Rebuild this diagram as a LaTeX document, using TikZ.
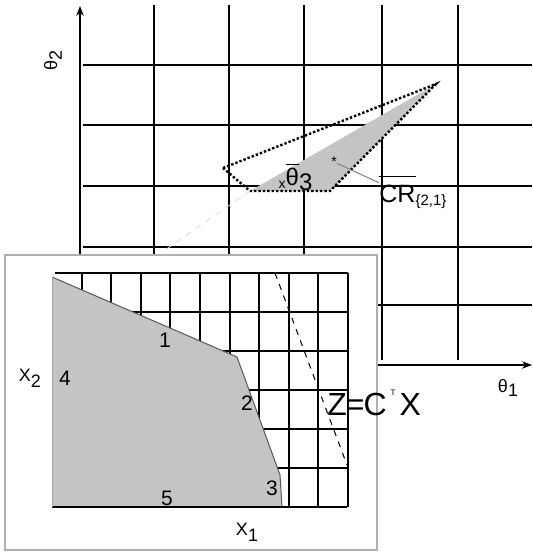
\documentclass[tikz,border=0pt]{standalone}
\usepackage{fontspec}
\setmainfont{Liberation Sans}
\usetikzlibrary{arrows.meta}
\definecolor{regiongray}{HTML}{C4C4C4}
\definecolor{panelline}{HTML}{B0B0B0}
\tikzset{
  gridline/.style={black, line width=0.6pt},
  edgelabel/.style={font=\fontsize{10.5}{12}\selectfont, inner sep=0pt},
  axislabel/.style={font=\fontsize{9}{10}\selectfont, inner sep=0pt},
  boundary/.style={black, line width=1.2pt, densely dotted},
}
\begin{document}
\begin{tikzpicture}[x=0.5pt, y=-0.5pt]
  \useasboundingbox (0,0) rectangle (532,552);
  % parameter space (back)
  \foreach \y in {65,125,186,247,305}
    \draw[gridline] (83,\y) -- (532,\y);
  \foreach \x in {154,229,304,382,458}
    \draw[gridline] (\x,5) -- (\x,360);
  \draw[gridline, -{Stealth[length=5pt]}] (80,368) -- (80,6);
  \draw[gridline, -{Stealth[length=5pt]}] (80,365) -- (532,365);
  \node[axislabel, rotate=90] (th2) at (53,60) {θ\raisebox{-0.5ex}{\small 2}};
  \node[axislabel] (th1) at (508,388) {θ\raisebox{-0.5ex}{\small 1}};
  % critical region
  \coordinate (cl) at (223,168);
  \coordinate (ct) at (436,84);
  \coordinate (cr) at (330,191);
  \coordinate (cb) at (250,191);
  \fill[regiongray] (cb) -- (ct) -- (cr) -- cycle;
  \draw[boundary] (cl) -- (ct) -- (cr) -- (cb) -- cycle;
  \draw[gray!30, dashed] (cb) -- (165,250);
  \node[font=\fontsize{7}{8}\selectfont, inner sep=0pt] (xmark) at (282,185) {x};
  \node[font=\fontsize{12}{13}\selectfont, inner sep=0pt] (theta3) at (299,177)
    {$\overline{\hbox{θ}}$\raisebox{-0.4ex}{3}};
  \node[font=\fontsize{7}{8}\selectfont, inner sep=0pt] (star) at (334,162) {*};
  \node[font=\fontsize{12.5}{14}\selectfont, inner sep=0pt, anchor=south west] (cr21) at (379,209)
    {$\overline{\hbox{\rule{0pt}{11.5pt}CR}}$\raisebox{-0.25ex}{\fontsize{7.5}{8}\selectfont\{2,1\}}};
  \draw[gray, line width=0.5pt] (star) -- ([yshift=-4pt]cr21.north west);
  % decision space (front panel)
  \draw[panelline, fill=white, line width=0.6pt] (5,255) rectangle (377,550);
  \foreach \y in {273,312,351,390,429,468}
    \draw[gridline] (55,\y) -- (348,\y);
  \foreach \x in {82,111,141,170,200,230,259,289,318,348}
    \draw[gridline] (\x,273) -- (\x,507);
  \coordinate (p1) at (52,277);
  \coordinate (p2) at (237,357);
  \coordinate (p3) at (280,475);
  \coordinate (p4) at (282,507);
  \coordinate (p5) at (52,507);
  \fill[regiongray] (p1) -- (p2) -- (p3) -- (p4) -- (p5) -- cycle;
  \draw[gray!70!black, line width=0.5pt] (p1) -- (p2) -- (p3) -- (p4);
  \draw[gridline] (p5) -- (347,507);
  \draw[gray!70, line width=0.4pt] (p5) -- (p1);
  \draw[black, dashed, line width=0.5pt] (275,273) -- (347,465);
  \node[edgelabel] (e1) at (165,340) {1};
  \node[edgelabel] (e2) at (247,403) {2};
  \node[edgelabel] (e3) at (272,488) {3};
  \node[edgelabel] (e4) at (65,378) {4};
  \node[edgelabel] (e5) at (167,498) {5};
  \node[axislabel] (x2) at (30,378) {X\raisebox{-0.6ex}{\small 2}};
  \node[axislabel] (x1) at (247,532) {X\raisebox{-0.6ex}{\small 1}};
  \node[font=\fontsize{16}{17}\selectfont, inner sep=0pt, anchor=west] (zcx) at (327,403)
    {Z\kern-0.5pt=\kern-0.5pt C\kern2pt\raisebox{1.2ex}{\fontsize{4}{4}\selectfont T}\kern2ptX};
\end{tikzpicture}
\end{document}
